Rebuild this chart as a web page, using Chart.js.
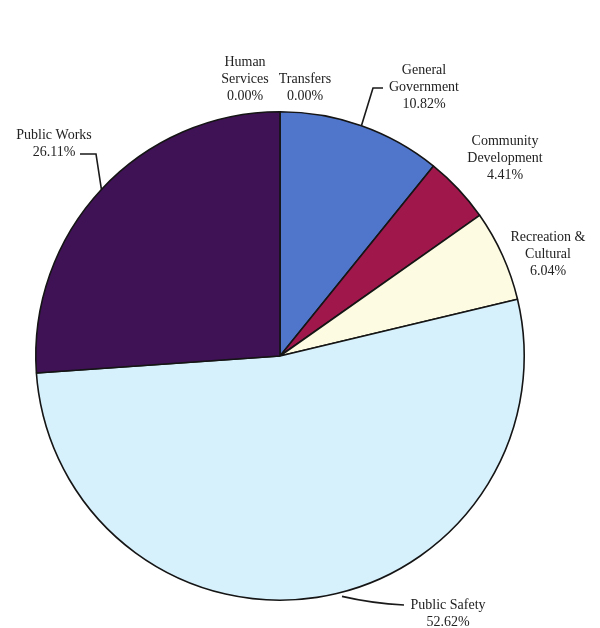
<!DOCTYPE html>
<html>
<head>
<meta charset="utf-8">
<script src="https://cdn.jsdelivr.net/npm/chart.js@4"></script>
<style>
  html, body { margin: 0; padding: 0; background: #ffffff; }
  #wrap { position: relative; width: 600px; height: 628px; }
</style>
</head>
<body>
<div id="wrap"><canvas id="pie" width="600" height="628"></canvas></div>
<script>
// expenditure shares, clockwise from 12 o'clock
var categories = ["General Government", "Community Development", "Recreation & Cultural",
                  "Public Safety", "Public Works", "Human Services", "Transfers"];
var shares = [10.82, 4.41, 6.04, 52.62, 26.11, 0.00, 0.00];
var sliceColors = ["#5076cc", "#a0174c", "#fdfbe1", "#d7f1fc", "#3f1155", "#7a4a8a", "#8ea8e0"];

// label text lines for each slice
var labelLines = [
    ["General", "Government"],
    ["Community", "Development"],
    ["Recreation &", "Cultural"],
    ["Public Safety"],
    ["Public Works"],
    ["Human", "Services"],
    ["Transfers"]
];

// where each label sits (center x, first baseline-middle y) and its leader elbow
var labelLayout = [
    { x: 424, y: 70,  leader: { side: "left",  hx: 383, hy: 88 } },
    { x: 505, y: 141, leader: null },
    { x: 548, y: 237, leader: null },
    { x: 448, y: 605, leader: { side: "left",  hx: 404, hy: 605 } },
    { x: 54,  y: 135, leader: { side: "right", hx: 80,  hy: 154 } },
    { x: 245, y: 62,  leader: null },
    { x: 305, y: 79,  leader: null }
];

var calloutPlugin = {
    id: "callouts",
    afterDatasetsDraw: function(chart)
    {
        var ctx = chart.ctx;
        var meta = chart.getDatasetMeta(0);
        ctx.save();
        ctx.font = "14px 'Liberation Serif', 'DejaVu Serif', serif";
        ctx.fillStyle = "#222222";
        ctx.textAlign = "center";
        ctx.textBaseline = "middle";

        for (var i = 0; i < categories.length; i++)
        {
            var lay = labelLayout[i];
            var lines = labelLines[i].concat([shares[i].toFixed(2) + "%"]);
            for (var j = 0; j < lines.length; j++) {
                ctx.fillText(lines[j], lay.x, lay.y + j * 17);
            }

            if (lay.leader)
            {
                var arc = meta.data[i];
                var p = arc.getProps(["x", "y", "startAngle", "endAngle", "outerRadius"], true);
                var mid = (p.startAngle + p.endAngle) / 2;
                var ex = p.x + Math.cos(mid) * p.outerRadius;
                var ey = p.y + Math.sin(mid) * p.outerRadius;

                ctx.strokeStyle = "#1a1a1a";
                ctx.lineWidth = 1.6;
                ctx.beginPath();
                if (i === 3) {
                    // public safety: long low sweep into the label
                    ctx.moveTo(ex + 25, ey - 1);
                    ctx.quadraticCurveTo(ex + 55, ey + 6, lay.leader.hx, lay.leader.hy);
                } else {
                    var elbowX = lay.leader.side === "left" ? lay.leader.hx - 10 : lay.leader.hx + 16;
                    ctx.moveTo(lay.leader.hx, lay.leader.hy);
                    ctx.lineTo(elbowX, lay.leader.hy);
                    ctx.lineTo(ex, ey);
                }
                ctx.stroke();
            }
        }
        ctx.restore();
    }
};

new Chart(document.getElementById("pie"), {
    type: "pie",
    data: {
        labels: categories,
        datasets: [{
            data: shares,
            backgroundColor: sliceColors,
            borderColor: "#151515",
            borderWidth: 1.6
        }]
    },
    options: {
        responsive: false,
        animation: false,
        layout: {
            padding: { left: 35, right: 75, top: 111, bottom: 27 }
        },
        plugins: {
            legend: { display: false },
            tooltip: { enabled: false }
        }
    },
    plugins: [calloutPlugin]
});
</script>
</body>
</html>
